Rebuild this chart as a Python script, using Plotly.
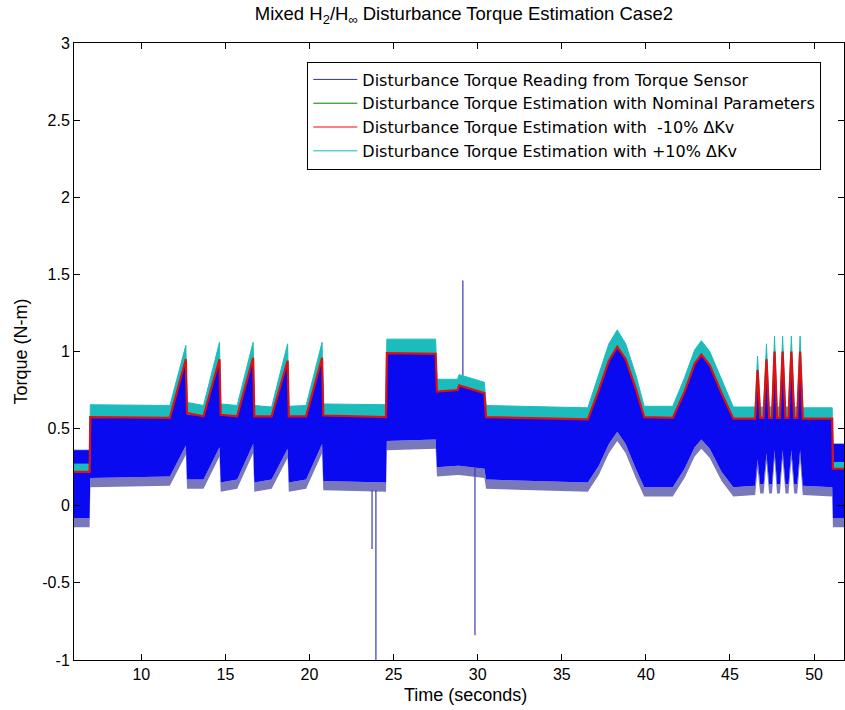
import plotly.graph_objects as go

# Envelope breakpoints (time in s, torque in N-m)
t = [6.0, 6.93, 6.97, 11.7, 12.65, 12.72, 13.7, 14.65, 14.72, 15.7, 16.65, 16.72,
     17.75, 18.7, 18.77, 19.8, 20.75, 20.82, 24.55, 24.6, 27.5, 27.58, 28.8, 28.9,
     30.4, 30.5, 36.55, 37.2, 37.8, 38.3, 38.8, 39.4, 39.9,
     41.6, 42.3, 42.9, 43.3, 43.8, 44.5, 45.2, 46.5,
     46.64, 46.8, 47.0, 47.17, 47.33, 47.5, 47.65, 47.8, 47.97, 48.13, 48.3, 48.48,
     48.65, 48.82, 49.0, 49.17, 49.33, 51.08, 51.12, 51.84]
sensor_lo = [-0.08, -0.08, 0.18, 0.19, 0.39, 0.17, 0.17, 0.38, 0.15, 0.17, 0.40, 0.15,
             0.17, 0.37, 0.15, 0.17, 0.40, 0.16, 0.15, 0.42, 0.43, 0.25, 0.26, 0.26,
             0.24, 0.17, 0.15, 0.26, 0.40, 0.48, 0.40, 0.24, 0.12,
             0.12, 0.24, 0.38, 0.43, 0.37, 0.22, 0.12, 0.13,
             0.30, 0.14, 0.14, 0.34, 0.14, 0.14, 0.36, 0.14, 0.14, 0.36, 0.14, 0.14,
             0.36, 0.14, 0.14, 0.36, 0.13, 0.12, -0.08, -0.08]
sensor_hi = [0.36, 0.36, 0.57, 0.57, 0.95, 0.59, 0.58, 0.95, 0.59, 0.58, 0.96, 0.58,
             0.58, 0.94, 0.58, 0.58, 0.96, 0.585, 0.575, 0.99, 0.985, 0.74, 0.75, 0.78,
             0.73, 0.575, 0.56, 0.75, 0.94, 1.03, 0.95, 0.76, 0.575,
             0.57, 0.74, 0.92, 0.98, 0.91, 0.73, 0.565, 0.565,
             0.88, 0.57, 0.57, 0.95, 0.57, 0.57, 1.0, 0.57, 0.57, 1.0, 0.57, 0.57,
             1.0, 0.57, 0.57, 1.0, 0.565, 0.565, 0.40, 0.40]
est_minus10 = [0.22, 0.22, 0.575, 0.57, 0.95, 0.60, 0.58, 0.95, 0.59, 0.58, 0.96, 0.58,
               0.58, 0.94, 0.58, 0.58, 0.96, 0.585, 0.575, 0.99, 0.985, 0.74, 0.75, 0.78,
               0.73, 0.575, 0.56, 0.75, 0.94, 1.03, 0.95, 0.76, 0.575,
               0.57, 0.74, 0.92, 0.98, 0.91, 0.73, 0.565, 0.565,
               0.88, 0.57, 0.57, 0.95, 0.57, 0.57, 1.0, 0.57, 0.57, 1.0, 0.57, 0.57,
               1.0, 0.57, 0.57, 1.0, 0.565, 0.565, 0.24, 0.24]
est_plus10 = [0.27, 0.27, 0.655, 0.65, 1.04, 0.67, 0.65, 1.06, 0.66, 0.65, 1.06, 0.65,
              0.64, 1.05, 0.645, 0.65, 1.06, 0.66, 0.655, 1.08, 1.08, 0.82, 0.82, 0.85,
              0.80, 0.65, 0.635, 0.85, 1.05, 1.14, 1.05, 0.85, 0.645,
              0.645, 0.83, 1.01, 1.07, 1.0, 0.82, 0.64, 0.64,
              0.97, 0.64, 0.64, 1.05, 0.64, 0.64, 1.1, 0.64, 0.64, 1.1, 0.64, 0.64,
              1.1, 0.64, 0.64, 1.1, 0.635, 0.635, 0.28, 0.28]
est_nominal = est_minus10

# isolated sensor spikes (time, start, end)
spike_t = [23.72, 23.95, 29.12, 29.84]
spike_from = [0.1, 0.1, 0.8, 0.25]
spike_to = [-0.28, -1.05, 1.46, -0.84]

x_ticks = [10, 15, 20, 25, 30, 35, 40, 45, 50]
y_ticks = [-1, -0.5, 0, 0.5, 1, 1.5, 2, 2.5, 3]
y_tick_text = ["-1", "-0.5", "0", "0.5", "1", "1.5", "2", "2.5", "3"]

GREEN = "#008000"
RED = "#ff0000"
CYAN = "#00bfbf"
fr = 0.06  # depth of the sparse spike fringe under the dense band

fig = go.Figure()

# sensor fringe (sparse dark spikes under the dense band)
fig.add_trace(go.Scatter(x=t, y=[v - fr for v in sensor_lo], mode="lines",
                         line=dict(width=0, color="rgba(0,0,0,0)"), showlegend=False,
                         hoverinfo="skip"))
fig.add_trace(go.Scatter(x=t, y=sensor_lo, mode="lines", fill="tonexty",
                         fillcolor="rgba(30,30,140,0.6)",
                         line=dict(width=0, color="rgba(0,0,0,0)"), showlegend=False,
                         hoverinfo="skip"))
# dense sensor band
fig.add_trace(go.Scatter(x=t, y=sensor_hi, mode="lines", fill="tonexty",
                         fillcolor="#0a0af0", line=dict(width=0.8, color="#0a0af0"),
                         showlegend=False, hoverinfo="skip"))
# spikes
sx, sy = [], []
for a, b, c in zip(spike_t, spike_from, spike_to):
    sx += [a, a, None]
    sy += [b, c, None]
fig.add_trace(go.Scatter(x=sx, y=sy, mode="lines", line=dict(width=1.2, color="#3a3ab0"),
                         showlegend=False, hoverinfo="skip"))
# nominal (hidden under the others)
fig.add_trace(go.Scatter(x=t, y=est_nominal, mode="lines", line=dict(width=1, color=GREEN),
                         showlegend=False, hoverinfo="skip"))
# +10% band
fig.add_trace(go.Scatter(x=t, y=est_minus10, mode="lines",
                         line=dict(width=0, color="rgba(0,0,0,0)"), showlegend=False,
                         hoverinfo="skip"))
fig.add_trace(go.Scatter(x=t, y=est_plus10, mode="lines", fill="tonexty",
                         fillcolor="#1cbcbc", line=dict(width=1, color="#1cbcbc"),
                         showlegend=False, hoverinfo="skip"))
# -10% line
fig.add_trace(go.Scatter(x=t, y=est_minus10, mode="lines", line=dict(width=2.2, color="#e01010"),
                         showlegend=False, hoverinfo="skip"))

names = ["Disturbance Torque Reading from Torque Sensor",
         "Disturbance Torque Estimation with Nominal Parameters",
         "Disturbance Torque Estimation with  -10% ΔKv",
         "Disturbance Torque Estimation with +10% ΔKv"]
for nm, col in zip(names, ["#3030b0", GREEN, RED, CYAN]):
    fig.add_trace(go.Scatter(x=[None], y=[None], mode="lines", name=nm,
                             line=dict(width=1, color=col)))

font = "Liberation Sans, Arial, sans-serif"
fig.update_layout(
    width=845, height=710,
    margin=dict(l=74, r=1, t=43, b=50),
    plot_bgcolor="white", paper_bgcolor="white",
    font=dict(family=font, size=16, color="black"),
    title=dict(text="Mixed H<sub>2</sub>/H<sub>∞</sub> Disturbance Torque Estimation Case2",
               x=0.549, xanchor="center", y=0.99, yanchor="top",
               font=dict(size=18.5), automargin=False),
    showlegend=True,
    legend=dict(x=0.303, y=0.97, xanchor="left", yanchor="top", traceorder="normal",
                bgcolor="white", bordercolor="black", borderwidth=1,
                font=dict(size=16, family="DejaVu Sans, sans-serif"),
                tracegroupgap=0, itemwidth=44),
    xaxis=dict(range=[6.0, 51.78], tickvals=x_ticks,
               ticks="inside", ticklen=6, tickcolor="black", showline=True,
               linecolor="black", linewidth=1, mirror="ticks", showgrid=False,
               zeroline=False, automargin=False),
    yaxis=dict(range=[-1, 3], tickvals=y_ticks, ticktext=y_tick_text,
               ticks="inside", ticklen=6, tickcolor="black", showline=True,
               linecolor="black", linewidth=1, mirror="ticks", showgrid=False,
               zeroline=False, automargin=False),
    annotations=[
        dict(text="Time (seconds)", xref="paper", yref="paper", x=0.509, y=-0.057,
             xanchor="center", yanchor="middle", showarrow=False, font=dict(size=18)),
        dict(text="Torque (N-m)", xref="paper", yref="paper", x=-0.070, y=0.5,
             xanchor="center", yanchor="middle", textangle=-90, showarrow=False,
             font=dict(size=18)),
    ],
)
fig.write_html("out.html", config={"displayModeBar": False},
               post_script="document.body.style.margin='0';document.body.style.overflow='hidden';")
